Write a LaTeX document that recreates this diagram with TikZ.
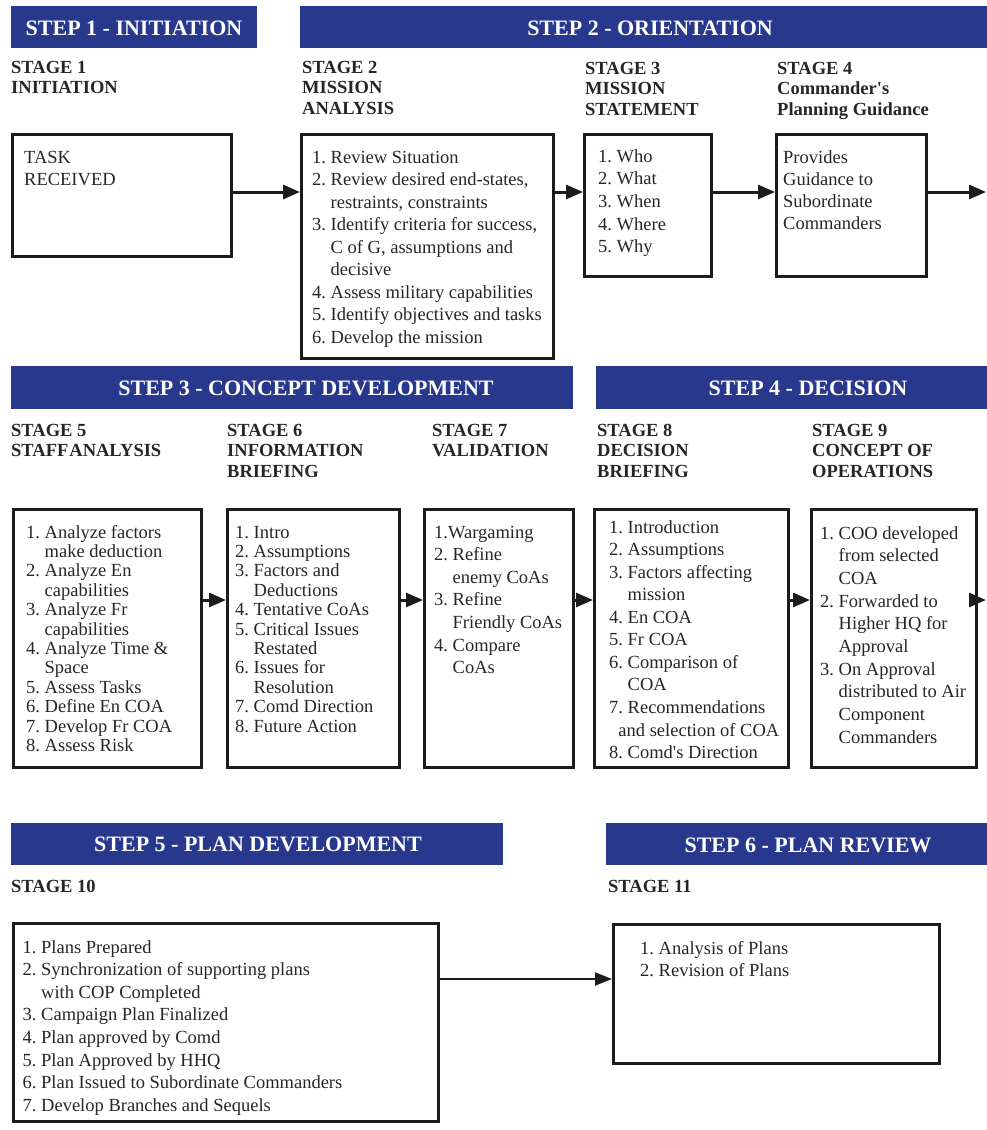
\documentclass[tikz,border=0pt]{standalone}
\usepackage{fontspec}
\setmainfont{Liberation Serif}[Ligatures=TeXOff]
\usetikzlibrary{arrows.meta}
\definecolor{navy}{RGB}{40,56,140}
\definecolor{ink}{RGB}{28,28,28}
\definecolor{txt}{RGB}{38,38,38}
\begin{document}
\begin{tikzpicture}[x=1pt,y=-1pt,
  box/.style={draw=ink, line width=3pt, inner sep=0pt, anchor=north west},
  bar/.style={fill=navy, inner sep=0pt, anchor=north west},
  head/.style={text=white, font=\bfseries\fontsize{22}{26}\selectfont, anchor=base, inner sep=0pt},
  stage/.style={text=txt, font=\bfseries\fontsize{18.5}{20.5}\selectfont, anchor=base west, inner sep=0pt},
  body/.style={text=txt, font=\fontsize{18.5}{22.5}\selectfont, anchor=base west, inner sep=0pt},
  tight/.style={text=txt, font=\fontsize{18.5}{19.4}\selectfont, anchor=base west, inner sep=0pt},
  flow/.style={draw=ink, line width=3pt, -{Triangle[length=17pt,width=14pt]}},
  thinflow/.style={draw=ink, line width=2pt, -{Triangle[length=17pt,width=13pt]}}]
\useasboundingbox (0,0) rectangle (987,1130);

% ---------- step bars ----------
\node[bar, minimum width=246pt, minimum height=42pt] (bar1) at (11,6) {};
\node[bar, minimum width=687pt, minimum height=42pt] (bar2) at (300,6) {};
\node[bar, minimum width=562pt, minimum height=43pt] (bar3) at (11,366) {};
\node[bar, minimum width=391pt, minimum height=43pt] (bar4) at (596,366) {};
\node[bar, minimum width=492pt, minimum height=42pt] (bar5) at (11,823) {};
\node[bar, minimum width=381pt, minimum height=42pt] (bar6) at (606,823) {};

\node[head] (h1) at (134,35) {STEP 1 - INITIATION};
\node[head] (h2) at (650,35) {STEP 2 - ORIENTATION};
\node[head] (h3) at (306,395) {STEP 3 - CONCEPT DEVELOPMENT};
\node[head] (h4) at (808,395) {STEP 4 - DECISION};
\node[head] (h5) at (258,851) {STEP 5 - PLAN DEVELOPMENT};
\node[head] (h6) at (808,852) {STEP 6 - PLAN REVIEW};

% ---------- stage titles ----------
\node[stage] (s1) at (11,73) {\begin{tabular}[t]{@{}l@{}}STAGE 1\\INITIATION\end{tabular}};
\node[stage] (s2) at (302,73) {\begin{tabular}[t]{@{}l@{}}STAGE 2\\MISSION\\ANALYSIS\end{tabular}};
\node[stage] (s3) at (585,74) {\begin{tabular}[t]{@{}l@{}}STAGE 3\\MISSION\\STATEMENT\end{tabular}};
\node[stage] (s4) at (777,74) {\begin{tabular}[t]{@{}l@{}}STAGE 4\\Commander's\\Planning Guidance\end{tabular}};
\node[stage] (s5) at (11,436) {\begin{tabular}[t]{@{}l@{}}STAGE 5\\STAFF\kern1pt{}ANALYSIS\end{tabular}};
\node[stage] (s6) at (227,436) {\begin{tabular}[t]{@{}l@{}}STAGE 6\\INFORMATION\\BRIEFING\end{tabular}};
\node[stage] (s7) at (432,436) {\begin{tabular}[t]{@{}l@{}}STAGE 7\\VALIDATION\end{tabular}};
\node[stage] (s8) at (597,436) {\begin{tabular}[t]{@{}l@{}}STAGE 8\\DECISION\\BRIEFING\end{tabular}};
\node[stage] (s9) at (812,436) {\begin{tabular}[t]{@{}l@{}}STAGE 9\\CONCEPT OF\\OPERATIONS\end{tabular}};
\node[stage] (s10) at (11,892) {STAGE 10};
\node[stage] (s11) at (608,892) {STAGE 11};

% ---------- stage boxes ----------
\node[box, minimum width=219pt, minimum height=122pt] (b1) at (11,133) {};
\node[box, minimum width=252pt, minimum height=224pt] (b2) at (300,133) {};
\node[box, minimum width=127pt, minimum height=142pt] (b3) at (583,133) {};
\node[box, minimum width=150pt, minimum height=142pt] (b4) at (775,133) {};
\node[box, minimum width=188pt, minimum height=258pt] (b5) at (12,508) {};
\node[box, minimum width=172pt, minimum height=258pt] (b6) at (226,508) {};
\node[box, minimum width=149pt, minimum height=258pt] (b7) at (423,508) {};
\node[box, minimum width=194pt, minimum height=258pt] (b8) at (593,508) {};
\node[box, minimum width=165pt, minimum height=258pt] (b9) at (810,508) {};
\node[box, minimum width=425pt, minimum height=198pt] (b10) at (12,922) {};
\node[box, minimum width=326pt, minimum height=139pt] (b11) at (612,923) {};

% ---------- box contents ----------
\node[body, font=\fontsize{18.5}{22}\selectfont] (t1) at (24,163)
  {\begin{tabular}[t]{@{}l@{}}TASK\\RECEIVED\end{tabular}};
\node[body] (t2) at (312,163) {\begin{tabular}[t]{@{}l@{\ }l@{}}
  1. & Review Situation\\
  2. & Review desired end-states,\\
     & restraints, constraints\\
  3. & Identify criteria for success,\\
     & C of G, assumptions and\\
     & decisive\\
  4. & Assess military capabilities\\
  5. & Identify objectives and tasks\\
  6. & Develop the mission\end{tabular}};
\node[body, font=\fontsize{18.5}{22.7}\selectfont] (t3) at (598,162) {\begin{tabular}[t]{@{}l@{\ }l@{}}
  1. & Who\\ 2. & What\\ 3. & When\\ 4. & Where\\ 5. & Why\end{tabular}};
\node[body, font=\fontsize{18.5}{22.2}\selectfont] (t4) at (783,163)
  {\begin{tabular}[t]{@{}l@{}}Provides\\Guidance to\\Subordinate\\Commanders\end{tabular}};

\node[tight] (t5) at (26,538) {\begin{tabular}[t]{@{}l@{\ }l@{}}
  1. & Analyze factors\\
     & make deduction\\
  2. & Analyze En\\
     & capabilities\\
  3. & Analyze Fr\\
     & capabilities\\
  4. & Analyze Time \&\\
     & Space\\
  5. & Assess Tasks\\
  6. & Define En COA\\
  7. & Develop Fr COA\\
  8. & Assess Risk\end{tabular}};
\node[tight] (t6) at (235,538) {\begin{tabular}[t]{@{}l@{\ }l@{}}
  1. & Intro\\
  2. & Assumptions\\
  3. & Factors and\\
     & Deductions\\
  4. & Tentative CoAs\\
  5. & Critical Issues\\
     & Restated\\
  6. & Issues for\\
     & Resolution\\
  7. & Comd Direction\\
  8. & Future Action\end{tabular}};
\node[body, font=\fontsize{18.5}{22.6}\selectfont] (t7) at (434,538) {\begin{tabular}[t]{@{}l@{\ }l@{}}
  \multicolumn{2}{@{}l@{}}{1.Wargaming}\\
  2. & Refine\\
     & enemy CoAs\\
  3. & Refine\\
     & Friendly CoAs\\
  4. & Compare\\
     & CoAs\end{tabular}};
\node[body, font=\fontsize{18.5}{22.57}\selectfont] (t8) at (609,533) {\begin{tabular}[t]{@{}l@{\ }l@{}}
  1. & Introduction\\
  2. & Assumptions\\
  3. & Factors affecting\\
     & mission\\
  4. & En COA\\
  5. & Fr COA\\
  6. & Comparison of\\
     & COA\\
  7. & Recommendations\\
  \multicolumn{2}{@{}l@{}}{\hspace*{0.5em}and selection of COA}\\
  8. & Comd's Direction\end{tabular}};
\node[body, font=\fontsize{18.5}{22.7}\selectfont] (t9) at (820,539) {\begin{tabular}[t]{@{}l@{\ }l@{}}
  1. & COO developed\\
     & from selected\\
     & COA\\
  2. & Forwarded to\\
     & Higher HQ for\\
     & Approval\\
  3. & On Approval\\
     & distributed to Air\\
     & Component\\
     & Commanders\end{tabular}};

\node[body, font=\fontsize{18.5}{22.6}\selectfont] (t10) at (22.5,953) {\begin{tabular}[t]{@{}l@{\ }l@{}}
  1. & Plans Prepared\\
  2. & Synchronization of supporting plans\\
     & with COP Completed\\
  3. & Campaign Plan Finalized\\
  4. & Plan approved by Comd\\
  5. & Plan Approved by HHQ\\
  6. & Plan Issued to Subordinate Commanders\\
  7. & Develop Branches and Sequels\end{tabular}};
\node[body] (t11) at (640,954) {\begin{tabular}[t]{@{}l@{\ }l@{}}
  1. & Analysis of Plans\\
  2. & Revision of Plans\end{tabular}};

% ---------- flow arrows ----------
\coordinate (out1) at (986,192);
\coordinate (out2) at (986,600);
\draw[flow] (b1.east |- 0,192) -- (b2.west |- 0,192);
\draw[flow] (b2.east |- 0,192) -- (b3.west |- 0,192);
\draw[flow] (b3.east |- 0,192) -- (b4.west |- 0,192);
\draw[flow] (b4.east |- 0,192) -- (out1);
\draw[flow] (b5.east |- 0,600) -- (b6.west |- 0,600);
\draw[flow] (b6.east |- 0,600) -- (b7.west |- 0,600);
\draw[flow] (b7.east |- 0,600) -- (b8.west |- 0,600);
\draw[flow] (b8.east |- 0,600) -- (b9.west |- 0,600);
\draw[flow] (b9.east |- 0,600) -- (out2);
\draw[thinflow] (b10.east |- 0,979) -- (b11.west |- 0,979);
\end{tikzpicture}
\end{document}
